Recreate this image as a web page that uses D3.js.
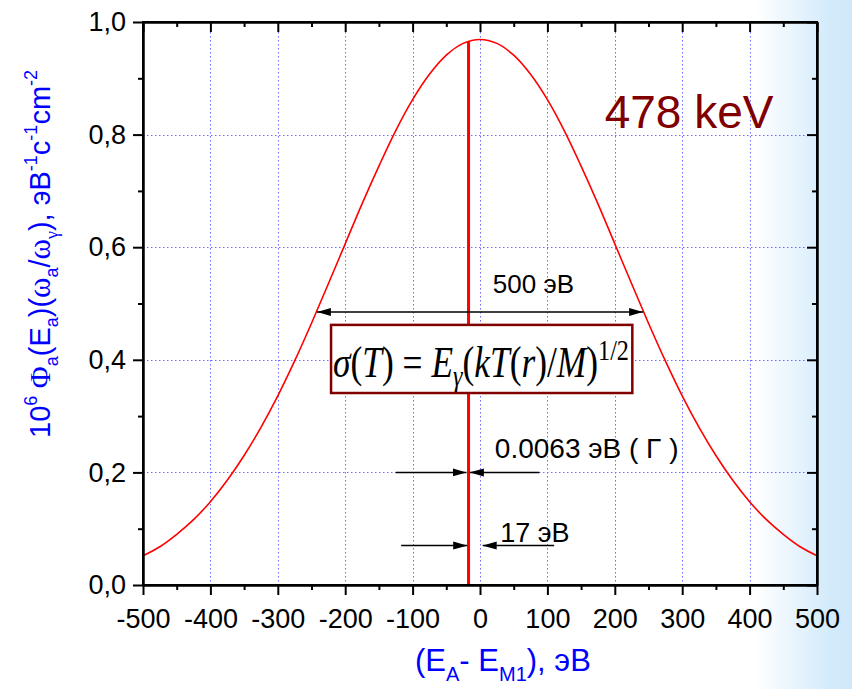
<!DOCTYPE html>
<html>
<head>
<meta charset="utf-8">
<script src="https://cdn.jsdelivr.net/npm/d3@7"></script>
<style>
  html, body { margin: 0; padding: 0; background: #fff; }
  svg { display: block; font-family: "Liberation Sans", Arial, sans-serif; }
</style>
</head>
<body>
<svg id="chart" width="852" height="689"></svg>
<script>
// Energy offset (eV) and spectral density of the 478 keV line
const energy = [-500, -475, -450, -425, -400, -375, -350, -325, -300, -275, -250,
                -225, -200, -175, -150, -125, -100, -75, -50, -25, 0,
                25, 50, 75, 100, 125, 150, 175, 200, 225, 250,
                275, 300, 325, 350, 375, 400, 425, 450, 475, 500];
const intensity = [0.052, 0.068, 0.090, 0.116, 0.148, 0.186, 0.230, 0.280, 0.336, 0.398, 0.465,
                   0.535, 0.606, 0.677, 0.744, 0.807, 0.862, 0.907, 0.941, 0.962, 0.969,
                   0.962, 0.941, 0.907, 0.862, 0.807, 0.744, 0.677, 0.606, 0.535, 0.465,
                   0.398, 0.336, 0.280, 0.230, 0.186, 0.148, 0.116, 0.090, 0.068, 0.052];

// Natural line position and its height
const lineEnergy = [-17];
const lineIntensity = [0.966];

// Tick values
const xTicks = [-500, -400, -300, -200, -100, 0, 100, 200, 300, 400, 500];
const xMinorTicks = [-450, -350, -250, -150, -50, 50, 150, 250, 350, 450];
const yTicks = [0, 0.2, 0.4, 0.6, 0.8, 1.0];
const yMinorTicks = [0.1, 0.3, 0.5, 0.7, 0.9];

// Width markers: [from, to] in eV with their level
const fwhmSpan = [-242, 242];
const fwhmLevel = 0.485;
const gammaLevel = 0.2;
const gammaLeft = [-125, -20];
const gammaRight = [88, -15];
const dopplerLevel = 0.07;
const dopplerLeft = [-117, -19];
const dopplerRight = [110, 4];

const svg = d3.select("#chart");
const W = 852, H = 689;
const m = { left: 143, right: 817, top: 22, bottom: 585 };
const sans = "'Liberation Sans', Arial, sans-serif";
const serif = "'Liberation Serif', 'Times New Roman', serif";

// background with a pale blue band on the right edge
const defs = svg.append("defs");
const bg = defs.append("linearGradient").attr("id", "bg")
  .attr("x1", 0).attr("x2", W).attr("y1", 0).attr("y2", 0)
  .attr("gradientUnits", "userSpaceOnUse");
bg.append("stop").attr("offset", 755 / W).attr("stop-color", "#ffffff");
bg.append("stop").attr("offset", 828 / W).attr("stop-color", "#d4ebfb");
bg.append("stop").attr("offset", 1).attr("stop-color", "#cfe8fb");
svg.append("rect").attr("width", W).attr("height", H).attr("fill", "url(#bg)");

const marker = defs.append("marker").attr("id", "head")
  .attr("markerUnits", "userSpaceOnUse")
  .attr("viewBox", "0 -5 14 10")
  .attr("refX", 14).attr("refY", 0)
  .attr("markerWidth", 14).attr("markerHeight", 10)
  .attr("orient", "auto-start-reverse");
marker.append("path").attr("d", "M0,-4L14,0L0,4Z").attr("fill", "#000");

const x = d3.scaleLinear().domain([-500, 500]).range([m.left, m.right]);
const y = d3.scaleLinear().domain([0, 1]).range([m.bottom, m.top]);

// dotted grid
const grid = svg.append("g").attr("stroke", "#6a6aff").attr("stroke-width", 1)
  .attr("stroke-dasharray", "1.5,2.5");
grid.selectAll("line.gx").data(xTicks.slice(1, -1)).join("line")
  .attr("x1", d => Math.round(x(d)) + 0.5).attr("x2", d => Math.round(x(d)) + 0.5)
  .attr("y1", m.top + 10).attr("y2", m.bottom);
grid.selectAll("line.gy").data(yTicks.slice(1, -1)).join("line")
  .attr("x1", m.left).attr("x2", m.right - 10)
  .attr("y1", d => Math.round(y(d)) + 0.5).attr("y2", d => Math.round(y(d)) + 0.5);

// spectrum curve
const line = d3.line().x((d, i) => x(energy[i])).y(d => y(d)).curve(d3.curveCatmullRom);
svg.append("path").datum(intensity).attr("d", line)
  .attr("fill", "none").attr("stroke", "#ff0000").attr("stroke-width", 1.6);

// natural line
svg.selectAll("line.nat").data(lineEnergy).join("line")
  .attr("x1", d => x(d)).attr("x2", d => x(d))
  .attr("y1", y(0)).attr("y2", (d, i) => y(lineIntensity[i]))
  .attr("stroke", "#ff0000").attr("stroke-width", 3);

// axes
const fmtY = d => d3.format(".1f")(d).replace(".", ",");
const fmtX = d => String(d);
function styleAxis(g) {
  g.selectAll(".domain").attr("stroke", "#000").attr("stroke-width", 2);
  g.selectAll(".tick line").attr("stroke", "#000").attr("stroke-width", 2);
  g.selectAll("text").style("font-size", "27px").attr("fill", "#000").style("font-family", sans);
}
svg.append("g").attr("transform", `translate(0,${m.bottom})`)
  .call(d3.axisBottom(x).tickValues(xTicks).tickSize(10).tickSizeOuter(0).tickPadding(14)
    .tickFormat(fmtX))
  .call(styleAxis);
svg.append("g").attr("transform", `translate(0,${m.bottom})`)
  .call(d3.axisBottom(x).tickValues(xMinorTicks).tickSize(5).tickSizeOuter(0).tickFormat(""))
  .call(styleAxis);
svg.append("g").attr("transform", `translate(${m.left},0)`)
  .call(d3.axisLeft(y).tickValues(yTicks).tickSize(10).tickSizeOuter(0).tickPadding(7).tickFormat(fmtY))
  .call(styleAxis);
svg.append("g").attr("transform", `translate(${m.left},0)`)
  .call(d3.axisLeft(y).tickValues(yMinorTicks).tickSize(5).tickSizeOuter(0).tickFormat(""))
  .call(styleAxis);
svg.append("g").attr("transform", `translate(0,${m.top})`)
  .call(d3.axisTop(x).tickValues(xTicks).tickSize(-10).tickSizeOuter(0).tickFormat(""))
  .call(styleAxis);
svg.append("g").attr("transform", `translate(0,${m.top})`)
  .call(d3.axisTop(x).tickValues(xMinorTicks).tickSize(-5).tickSizeOuter(0).tickFormat(""))
  .call(styleAxis);
svg.append("g").attr("transform", `translate(${m.right},0)`)
  .call(d3.axisRight(y).tickValues(yTicks).tickSize(-10).tickSizeOuter(0).tickFormat(""))
  .call(styleAxis);
svg.append("g").attr("transform", `translate(${m.right},0)`)
  .call(d3.axisRight(y).tickValues(yMinorTicks).tickSize(-5).tickSizeOuter(0).tickFormat(""))
  .call(styleAxis);
svg.append("rect").attr("x", m.left).attr("y", m.top)
  .attr("width", m.right - m.left).attr("height", m.bottom - m.top)
  .attr("fill", "none").attr("stroke", "#000").attr("stroke-width", 2);

// arrows
function arrow(x1, x2, level, both) {
  const l = svg.append("line")
    .attr("x1", x(x1)).attr("x2", x(x2)).attr("y1", y(level)).attr("y2", y(level))
    .attr("stroke", "#000").attr("stroke-width", 1.5)
    .attr("marker-end", "url(#head)");
  if (both) l.attr("marker-start", "url(#head)");
}
arrow(fwhmSpan[0], fwhmSpan[1], fwhmLevel, true);
arrow(gammaLeft[0], gammaLeft[1], gammaLevel, false);
arrow(gammaRight[0], gammaRight[1], gammaLevel, false);
arrow(dopplerLeft[0], dopplerLeft[1], dopplerLevel, false);
arrow(dopplerRight[0], dopplerRight[1], dopplerLevel, false);

// annotation labels
const note = (ev, v, str, size, color) => svg.append("text")
  .attr("x", x(ev)).attr("y", y(v)).style("font-size", size + "px")
  .style("font-family", sans).attr("fill", color).text(str);
note(19, 0.519, "500 эВ", 26, "#000");
note(22, 0.2256, "0.0063 эВ ( Γ )", 28, "#000");
note(30, 0.076, "17 эВ", 27, "#000");
note(185, 0.812, "478 keV", 46, "#800000");

// formula box
const bx0 = x(-221), bx1 = x(226);
svg.append("rect").attr("x", bx0).attr("y", y(0.462))
  .attr("width", bx1 - bx0).attr("height", y(0.341) - y(0.462))
  .attr("fill", "#fff").attr("stroke", "#800000").attr("stroke-width", 2.5);
const eqG = svg.append("g");
const eq = eqG.append("text").attr("x", 0).attr("y", 0)
  .style("font-family", serif).style("font-size", "44px").attr("fill", "#000");
const eqParts = [
  ["σ", 0, 44, "italic"], ["(", 0, 44, "normal"], ["T", 0, 44, "italic"], [")", 0, 44, "normal"],
  [" = ", 0, 44, "normal"],
  ["E", 0, 44, "italic"], ["γ", 9, 30, "italic"], ["(", -9, 44, "normal"],
  ["kT", 0, 44, "italic"], ["(", 0, 44, "normal"], ["r", 0, 44, "italic"],
  [")/", 0, 44, "normal"], ["M", 0, 44, "italic"], [")", 0, 44, "normal"],
  ["1/2", -17, 30, "normal"]
];
eqParts.forEach(([t, dy, fs, st]) => eq.append("tspan").attr("dy", dy)
  .style("font-size", fs + "px").style("font-style", st).text(t));
const eqLen = eq.node().getComputedTextLength();
const eqScale = 296 / eqLen;
eqG.attr("transform", `translate(${bx0 + 2},${y(0.37)}) scale(${eqScale},1)`);

// axis titles
const blue = "#0000ff";
function richText(g, parts, base) {
  let shift = 0;
  parts.forEach(([t, s, fs, fam]) => {
    const ts = g.append("tspan").attr("dy", s - shift).style("font-size", (fs || base) + "px").text(t);
    if (fam) ts.style("font-family", fam);
    shift = s;
  });
}
const yt = svg.append("text").attr("transform", "translate(50,438) rotate(-90)")
  .attr("fill", blue).style("font-family", sans).style("font-size", "29px");
richText(yt, [
  ["10", 0], ["6", -13, 18], [" Φ", 0, 30, serif], ["a", 8, 18], ["(E", 0], ["a", 8, 18],
  [")(", 0], ["ω", 0, 31, serif], ["a", 8, 18], ["/", 0], ["ω", 0, 31, serif], ["γ", 8, 18, serif],
  ["), эВ", 0], ["-1", -13, 18], ["c", 0], ["-1", -13, 18], ["cm", 0], ["-2", -13, 18]
], 29);

const xt = svg.append("text").attr("x", 415).attr("y", 671)
  .attr("fill", blue).style("font-family", sans).style("font-size", "31px");
richText(xt, [
  ["(E", 0], ["A", 10, 20], ["- E", 0], ["M1", 10, 20], ["), эВ", 0]
], 31);
</script>
</body>
</html>
